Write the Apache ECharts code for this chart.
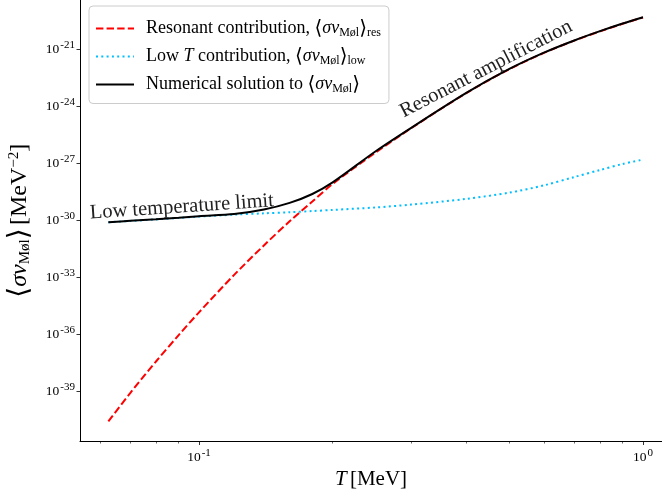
<!DOCTYPE html>
<html><head><meta charset="utf-8">
<script src="https://cdn.jsdelivr.net/npm/echarts@6/dist/echarts.min.js"></script>
<style>html,body{margin:0;padding:0;background:#fff}#c{width:662px;height:495px}</style>
</head><body><div id="c"></div>
<script>
// Temperature T [MeV]
const T = [0.0625, 0.07, 0.08, 0.09, 0.1, 0.12, 0.14, 0.16, 0.18, 0.2, 0.25, 0.3, 0.4, 0.5, 0.6, 0.7, 0.8, 0.9, 1.0];
// <sigma v_Mol> [MeV^-2]
const resonant = [2.51e-41, 7.76e-40, 3.55e-38, 8.71e-37, 1.38e-35, 1.29e-33, 4.57e-32, 8.51e-31, 9.33e-30, 7.94e-29, 3.55e-27, 6.61e-26, 4.79e-24, 8.71e-23, 6.46e-22, 2.75e-21, 8.51e-21, 2.14e-20, 4.57e-20];
const lowT = [7.59e-31, 8.91e-31, 1.07e-30, 1.29e-30, 1.51e-30, 1.91e-30, 2.24e-30, 2.57e-30, 2.95e-30, 3.39e-30, 4.57e-30, 6.46e-30, 1.29e-29, 2.75e-29, 6.76e-29, 1.82e-28, 4.27e-28, 8.91e-28, 1.51e-27];
const numerical = [7.59e-31, 9.12e-31, 1.10e-30, 1.32e-30, 1.58e-30, 2.04e-30, 3.55e-30, 7.94e-30, 2.34e-29, 9.55e-29, 4.17e-27, 6.92e-26, 4.90e-24, 8.91e-23, 6.61e-22, 2.82e-21, 8.71e-21, 2.19e-20, 4.68e-20];
const xMinorTicks = [0.06, 0.07, 0.08, 0.09, 0.2, 0.3, 0.4, 0.5, 0.6, 0.7, 0.8, 0.9];
const yTicks = [1e-39, 1e-36, 1e-33, 1e-30, 1e-27, 1e-24, 1e-21];
const annotLow = {text: 'Low temperature limit', T: 0.0915, v: 4.83e-30, angle: 3.85};
const annotRes = {text: 'Resonant amplification', T: 0.443, v: 8.9e-23, angle: 27.25};

const serif = 'Liberation Serif';
const xMin = Math.pow(10, -1.268), xMax = Math.pow(10, 0.0428);
// y axis is drawn on log10 scale of <sigma v>
const yMinExp = -41.66, yMaxExp = -18.42;

function pairs(ys) { return T.map((t, i) => [t, Math.log10(ys[i])]); }
function powLabelX(v) { return '{b|10}{s|' + Math.round(Math.log10(v)) + '}'; }
function powLabelY(e) { return '{b|10}{s|' + Math.round(e) + '}'; }
const tickRich = {
  b: {fontFamily: serif, fontSize: 13.5, color: '#000'},
  s: {fontFamily: serif, fontSize: 11, color: '#000', padding: [0, 0, 8, 1]}
};
const mathRich = {
  n: {fontFamily: serif, fontSize: 18, color: '#000'},
  i: {fontFamily: serif, fontSize: 18, fontStyle: 'italic', color: '#000'},
  br: {fontFamily: 'DejaVu Serif', fontSize: 20, color: '#000'},
  sub: {fontFamily: serif, fontSize: 12, color: '#000', padding: [9, 0, 0, 0]},
  sup: {fontFamily: serif, fontSize: 12, color: '#000', padding: [0, 0, 10, 0]}
};
const legendText = {
  res: 'Resonant contribution, {br|⟨}{i|σv}{sub|Møl}{br|⟩}{sub|res}',
  low: 'Low {i|T} contribution, {br|⟨}{i|σv}{sub|Møl}{br|⟩}{sub|low}',
  num: 'Numerical solution to {br|⟨}{i|σv}{sub|Møl}{br|⟩}'
};

const chart = echarts.init(document.getElementById('c'), null, {renderer: 'canvas'});
const option = {
  backgroundColor: '#fff',
  animation: false,
  grid: {left: 80, right: 0, top: 0, bottom: 53.5, containLabel: false, outerBoundsMode: 'none'},
  legend: {
    orient: 'vertical', left: 89, top: 6,
    itemWidth: 38, itemHeight: 14, itemGap: 7.5,
    padding: [12.5, 8, 8.5, 6],
    backgroundColor: 'rgba(255,255,255,0.8)',
    borderColor: '#cccccc', borderWidth: 1, borderRadius: 4,
    data: ['res', 'low', 'num'],
    itemStyle: {opacity: 0},
    formatter: name => legendText[name],
    textStyle: {fontFamily: serif, fontSize: 18, color: '#000', padding: [0, 0, 0, 7], rich: mathRich}
  },
  xAxis: [{
    type: 'log', logBase: 10, min: xMin, max: xMax,
    axisLine: {show: true, onZero: false, lineStyle: {color: '#000', width: 1}},
    axisTick: {show: true, length: 3.5, lineStyle: {color: '#000', width: 0.8}},
    minorTick: {show: false},
    splitLine: {show: false},
    axisLabel: {formatter: powLabelX, rich: tickRich, margin: 6, showMinLabel: false, showMaxLabel: false},
    name: '{i|T} {n|[MeV]}', nameLocation: 'middle', nameGap: 25,
    nameTextStyle: {rich: {i: {fontFamily: serif, fontSize: 21, fontStyle: 'italic', color: '#000'}, n: {fontFamily: serif, fontSize: 21, color: '#000'}}}
  }, {
    type: 'value', min: Math.log10(xMin), max: Math.log10(xMax), position: 'bottom',
    axisLine: {show: false},
    axisTick: {show: true, length: 2, lineStyle: {color: '#000', width: 0.6}, customValues: xMinorTicks.map(v => Math.log10(v))},
    axisLabel: {show: false},
    splitLine: {show: false}
  }],
  yAxis: {
    type: 'value', min: yMinExp, max: yMaxExp,
    axisLine: {show: true, onZero: false, lineStyle: {color: '#000', width: 1}},
    axisTick: {show: true, length: 3.5, lineStyle: {color: '#000', width: 0.8}, customValues: yTicks.map(v => Math.log10(v))},
    splitLine: {show: false},
    axisLabel: {formatter: powLabelY, rich: tickRich, margin: 5, customValues: yTicks.map(v => Math.log10(v))},
    name: '{br|⟨}{i|σv}{sub|Møl}{br|⟩} {n|[MeV}{sup|−2}{n|]}',
    nameLocation: 'middle', nameRotate: 90, nameGap: 46,
    nameTextStyle: {rich: {
      n: {fontFamily: serif, fontSize: 24, color: '#000'},
      i: {fontFamily: serif, fontSize: 24, fontStyle: 'italic', color: '#000'},
      br: {fontFamily: 'DejaVu Serif', fontSize: 28, color: '#000'},
      sub: {fontFamily: serif, fontSize: 15, color: '#000', padding: [11, 0, 0, 0]},
      sup: {fontFamily: serif, fontSize: 15, color: '#000', padding: [0, 0, 12, 0]}
    }}
  },
  series: [
    {name: 'res', type: 'line', data: pairs(resonant), showSymbol: false, symbol: 'none', smooth: 0.3,
     lineStyle: {color: '#ff0000', width: 2, type: [7.4, 3.2]}, itemStyle: {color: '#ff0000'}},
    {name: 'low', type: 'line', data: pairs(lowT), showSymbol: false, symbol: 'none', smooth: 0.3,
     lineStyle: {color: '#00bfff', width: 2, type: [2, 3.3]}, itemStyle: {color: '#00bfff'}},
    {name: 'num', type: 'line', data: pairs(numerical), showSymbol: false, symbol: 'none', smooth: 0.3,
     lineStyle: {color: '#000000', width: 2}, itemStyle: {color: '#000000'}}
  ]
};
chart.setOption(option);

function annot(a) {
  const p = chart.convertToPixel({xAxisIndex: 0, yAxisIndex: 0}, [a.T, Math.log10(a.v)]);
  return {
    type: 'text', x: p[0], y: p[1], rotation: a.angle * Math.PI / 180,
    style: {text: a.text, fontFamily: serif, fontSize: 20.5, fill: '#222', align: 'center', verticalAlign: 'middle'},
    z: 10
  };
}
chart.setOption({graphic: [annot(annotLow), annot(annotRes)]});
</script>
</body></html>
